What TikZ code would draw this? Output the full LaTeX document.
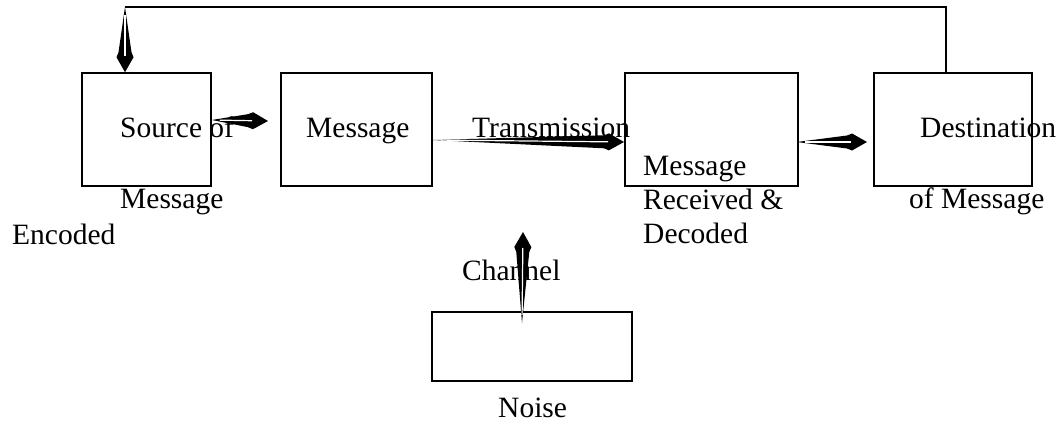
\documentclass[tikz,border=0pt]{standalone}
\usepackage{fontspec}
\setmainfont{Liberation Serif}
\usetikzlibrary{calc}
\begin{document}
\begin{tikzpicture}[x=1pt,y=1pt]
\tikzset{
  box/.style={draw, line width=1.5pt, inner sep=0pt},
  lbl/.style={anchor=base west, inner sep=0pt, font=\fontsize{29.5}{34}\selectfont},
  conn/.style={line width=1.5pt},
  taper/.style={to path={
     let \p1=($(\tikztotarget)-(\tikztostart)$),
         \n1={atan2(\y1,\x1)}, \n2={veclen(\x1,\y1)} in
     -- ([shift={(\tikztostart)}, rotate=\n1] \n2-20, 6.5)
     -- ([shift={(\tikztostart)}, rotate=\n1] \n2-15, 8.5)
     -- (\tikztotarget)
     -- ([shift={(\tikztostart)}, rotate=\n1] \n2-15, -8.5)
     -- ([shift={(\tikztostart)}, rotate=\n1] \n2-20, -6.5)
     -- cycle}},
  core/.style={draw=white, line width=1.2pt, shorten <=8pt, shorten >=16pt}
}
\useasboundingbox (0,0) rectangle (1063,-423);
% boxes
\node[box, minimum width=129pt, minimum height=113pt] (src) at (146.5,-129.5) {};
\node[box, minimum width=151pt, minimum height=113pt] (msg) at (356.5,-129.5) {};
\node[box, minimum width=173pt, minimum height=113pt] (rcv) at (711.5,-129.5) {};
\node[box, minimum width=158pt, minimum height=113pt] (dst) at (953,-129.5) {};
\node[box, minimum width=200pt, minimum height=69pt] (noise) at (532,-346.5) {};
% labels
\node[lbl] (t1) at (120,-137) {Source of};
\node[lbl] (t2) at (120,-208) {Message};
\node[lbl] (t3) at (12,-244) {Encoded};
\node[lbl] (t4) at (306,-137) {Message};
\node[lbl] (t5) at (472,-137) {Transmission};
\node[lbl] (t6) at (643,-175) {Message};
\node[lbl] (t7) at (643,-209) {Received \&};
\node[lbl] (t8) at (643,-243) {Decoded};
\node[lbl] (t9) at (920,-137) {Destination};
\node[lbl] (t10) at (909,-208) {of Message};
\node[lbl] (t11) at (462,-280) {Channel};
\node[lbl] (t12) at (498,-417) {Noise};
% connector end points
\coordinate (a1s) at ($(src.east)+(0,9.5)$);
\coordinate (a1e) at (268,-121);
\coordinate (a2s) at ($(msg.east)+(0,-10.5)$);
\coordinate (a2e) at (624,-142);
\coordinate (a3s) at ($(rcv.east)+(-2,-12.5)$);
\coordinate (a3e) at (867,-142);
\coordinate (a4s) at (522,-323);
\coordinate (a4e) at (523,-232);
\coordinate (fbR) at (946,-7);
\coordinate (fbL) at (125,-7);
\coordinate (fbT) at (src.north -| fbL);
% feedback line
\draw[conn] (dst.north -| fbR) -- (fbR) -- (fbL);
% tapered arrows
\fill (fbL) to[taper] (fbT);
\draw[core] (fbL) -- (fbT);
\fill (a1s) to[taper] (a1e);
\draw[core] (a1s) -- (a1e);
\fill (a2s) to[taper] (a2e);
\draw[core] (a2s) -- (a2e);
\fill (a3s) to[taper] (a3e);
\draw[core] (a3s) -- (a3e);
\fill (a4s) to[taper] (a4e);
\draw[core] (a4s) -- (a4e);
\end{tikzpicture}
\end{document}
